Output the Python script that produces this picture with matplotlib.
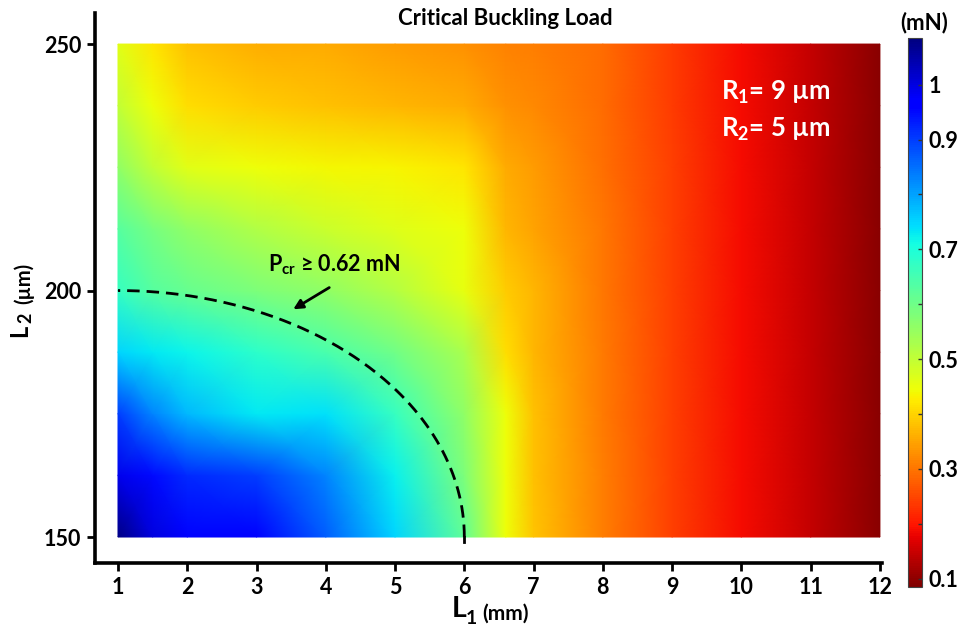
import numpy as np
import matplotlib
matplotlib.use("Agg")
import matplotlib.pyplot as plt

plt.rcParams['font.family'] = ['Lato', 'DejaVu Sans']
plt.rcParams['font.weight'] = 'bold'
plt.rcParams['mathtext.fontset'] = 'custom'
plt.rcParams['mathtext.bf'] = 'Lato:bold'
plt.rcParams['mathtext.rm'] = 'Lato:bold'
plt.rcParams['mathtext.it'] = 'Lato:bold'
plt.rcParams['mathtext.default'] = 'bf'

# ---------------- data ----------------
L1_mm = [1, 1.5, 2, 3, 4, 5, 6, 6.6, 7, 8, 9, 10, 11, 12]
L2_um = [150, 162.5, 175, 187.5, 200, 212.5, 225, 237.5, 250]

P_L2_150 = [1.08, 1.00, 0.97, 0.96, 0.87, 0.75, 0.62, 0.445, 0.385, 0.31, 0.245, 0.19, 0.145, 0.095]
P_L2_162 = [0.99, 0.95, 0.92, 0.90, 0.83, 0.725, 0.585, 0.445, 0.38, 0.31, 0.245, 0.19, 0.145, 0.095]
P_L2_175 = [0.90, 0.83, 0.78, 0.73, 0.74, 0.67, 0.56, 0.445, 0.38, 0.305, 0.245, 0.19, 0.145, 0.095]
P_L2_187 = [0.75, 0.73, 0.72, 0.68, 0.645, 0.60, 0.53, 0.41, 0.37, 0.305, 0.245, 0.19, 0.145, 0.095]
P_L2_200 = [0.67, 0.63, 0.61, 0.585, 0.56, 0.515, 0.455, 0.39, 0.37, 0.30, 0.245, 0.19, 0.145, 0.095]
P_L2_212 = [0.63, 0.59, 0.56, 0.52, 0.49, 0.465, 0.445, 0.37, 0.35, 0.30, 0.245, 0.19, 0.145, 0.095]
P_L2_225 = [0.56, 0.50, 0.46, 0.445, 0.44, 0.435, 0.42, 0.355, 0.34, 0.295, 0.245, 0.19, 0.145, 0.095]
P_L2_237 = [0.50, 0.445, 0.41, 0.39, 0.38, 0.37, 0.355, 0.33, 0.32, 0.29, 0.24, 0.19, 0.145, 0.095]
P_L2_250 = [0.46, 0.42, 0.38, 0.36, 0.355, 0.34, 0.33, 0.315, 0.31, 0.29, 0.24, 0.19, 0.145, 0.095]

P_rows = [P_L2_150, P_L2_162, P_L2_175, P_L2_187, P_L2_200,
          P_L2_212, P_L2_225, P_L2_237, P_L2_250]

x_ticks = list(range(1, 13))
y_ticks = [150, 200, 250]
cbar_ticks = [0.1, 0.2, 0.3, 0.4, 0.5, 0.6, 0.7, 0.8, 0.9, 1.0]
cbar_labels = ['0.1', '', '0.3', '', '0.5', '', '0.7', '', '0.9', '1']
cbar_min, cbar_max = 0.085, 1.085

# dashed boundary P_cr >= 0.62 mN : quarter ellipse (centre, radii)
boundary_center = (1.0, 150.0)
boundary_radii = (5.0, 50.0)

# ---------------- figure ----------------
W, H = 963, 629
fig = plt.figure(figsize=(W / 100, H / 100), dpi=100)

def fx(px):
    return px / W

def fy(py):
    return 1 - py / H

ax = fig.add_axes([fx(95), fy(563), fx(882) - fx(95), fy(13) - fy(563)])

X, Y = np.meshgrid(L1_mm, L2_um)
Z = np.array(P_rows)
mesh = ax.pcolormesh(X, Y, Z, shading='gouraud', cmap='jet_r',
                     vmin=cbar_min, vmax=cbar_max, rasterized=True)

ax.set_xlim(0.668, 12.03)
ax.set_ylim(144.73, 256.3)
for s in ['top', 'right']:
    ax.spines[s].set_visible(False)
for s in ['left', 'bottom']:
    ax.spines[s].set_linewidth(2.6)
ax.set_xticks(x_ticks)
ax.set_yticks(y_ticks)
ax.tick_params(axis='both', direction='out', length=6, width=2,
               labelsize=15.5, pad=4)
for lab in ax.get_xticklabels() + ax.get_yticklabels():
    lab.set_fontweight('bold')

# dashed boundary
t = np.linspace(0, np.pi / 2, 200)
bx = boundary_center[0] + boundary_radii[0] * np.cos(t)
by = boundary_center[1] + boundary_radii[1] * np.sin(t)
ax.plot(bx, by, color='black', lw=2.0, dashes=(4.5, 2.5), clip_on=False)
ax.plot([bx[0], bx[0]], [150, 149], color='black', lw=2.0)

# annotation
ax.annotate('', xy=(3.53, 196.2), xytext=(4.05, 200.6),
            arrowprops=dict(arrowstyle='-|>', lw=2.0, color='black',
                            mutation_scale=14, shrinkA=0, shrinkB=0))
ax.text(3.165, 203.8, r'P$_{\mathbf{cr}}$ ≥ 0.62 mN', fontsize=15.5,
        fontweight='bold', ha='left', va='baseline', color='black')

# R texts
ax.text(9.70, 238.6, r'R$_{\mathbf{1}}$= 9 µm', fontsize=18.5, color='white',
        fontweight='bold', ha='left', va='baseline')
ax.text(9.70, 231.1, r'R$_{\mathbf{2}}$= 5 µm', fontsize=18.5, color='white',
        fontweight='bold', ha='left', va='baseline')

# title
fig.text(fx(505), fy(25), 'Critical Buckling Load', fontsize=16,
         fontweight='bold', ha='center', va='baseline')

# x label: L1 (mm)
fig.text(fx(452), fy(617), 'L', fontsize=20.5, fontweight='bold',
         ha='left', va='baseline')
fig.text(fx(466), fy(624), '1', fontsize=14, fontweight='bold',
         ha='left', va='baseline')
fig.text(fx(482), fy(620), '(mm)', fontsize=15, fontweight='bold',
         ha='left', va='baseline')

# y label: L2 (µm) rotated
fig.text(fx(27), fy(337), 'L', fontsize=17, fontweight='bold', rotation=90,
         rotation_mode='anchor', ha='left', va='baseline')
fig.text(fx(31), fy(323), '2', fontsize=13, fontweight='bold', rotation=90,
         rotation_mode='anchor', ha='left', va='baseline')
fig.text(fx(30), fy(304), '(µm)', fontsize=14.5, fontweight='bold',
         rotation=90, rotation_mode='anchor', ha='left', va='baseline')

# colorbar
cax = fig.add_axes([fx(908), fy(587), fx(922) - fx(908), fy(38) - fy(587)])
cb = fig.colorbar(mesh, cax=cax)
cb.set_ticks(cbar_ticks)
cb.set_ticklabels(cbar_labels)
cb.outline.set_linewidth(0.8)
cb.outline.set_edgecolor('#444444')
cax.tick_params(direction='in', length=3, width=1, labelsize=15.5, pad=5,
                color='#333333')
for lab in cax.get_yticklabels():
    lab.set_fontweight('bold')
fig.text(fx(924), fy(29), '(mN)', fontsize=16, fontweight='bold',
         ha='center', va='baseline')

fig.savefig('out.png', dpi=100)
